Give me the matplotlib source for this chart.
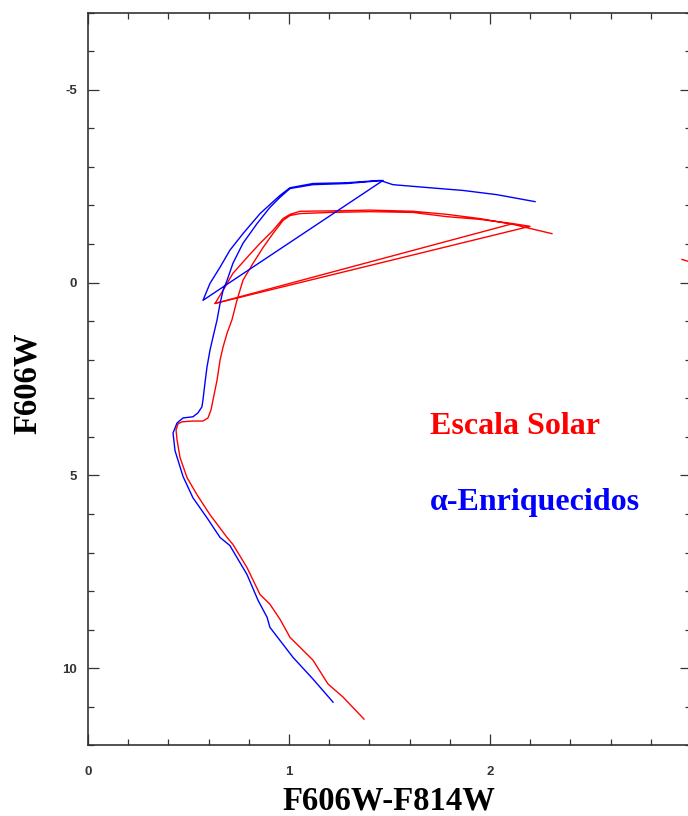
import matplotlib
matplotlib.use("Agg")
import matplotlib.pyplot as plt
from matplotlib.ticker import MultipleLocator

plt.rcParams["axes.unicode_minus"] = False

# ---- data (colour F606W-F814W, magnitude F606W) ----
solar_color = [1.373, 1.269, 1.194, 1.119, 1.005, 0.955, 0.905, 0.856, 0.791, 0.721,
               0.692, 0.607, 0.542, 0.493, 0.458, 0.443, 0.438, 0.448, 0.468, 0.522,
               0.572, 0.597, 0.612, 0.622, 0.642, 0.657, 0.672, 0.692, 0.716, 0.741,
               0.771, 0.821, 0.871, 0.920, 0.970, 1.005, 1.055, 1.204, 1.403, 1.617,
               1.786, 1.950, 2.114, 2.199,
               0.632,
               0.672, 0.721, 0.791, 0.856, 0.920, 0.970, 1.005, 1.055, 1.204, 1.403,
               1.617, 1.786, 1.950, 2.114, 2.308]
solar_mag = [11.32, 10.75, 10.41, 9.79, 9.20, 8.73, 8.34, 8.09, 7.39, 6.79,
             6.61, 6.02, 5.50, 5.06, 4.54, 4.08, 3.82, 3.66, 3.61, 3.59,
             3.59, 3.51, 3.30, 3.04, 2.53, 2.01, 1.67, 1.31, 0.97, 0.46,
             -0.06, -0.50, -0.91, -1.27, -1.61, -1.74, -1.79, -1.82, -1.84, -1.82,
             -1.71, -1.64, -1.53, -1.46,
             0.54,
             0.20, -0.24, -0.65, -1.02, -1.35, -1.66, -1.77, -1.85, -1.86, -1.88,
             -1.85, -1.77, -1.66, -1.51, -1.27]

solar_jump_color = [2.114, 0.632]
solar_jump_mag = [-1.53, 0.54]

solar_edge_color = [2.955, 3.020]
solar_edge_mag = [-0.60, -0.50]

alpha_color = [1.219, 1.119, 1.020, 0.905, 0.891, 0.846, 0.791, 0.706, 0.657, 0.592,
               0.522, 0.473, 0.433, 0.423, 0.443, 0.473, 0.522, 0.547, 0.567, 0.572,
               0.582, 0.592, 0.607, 0.622, 0.642, 0.657, 0.672, 0.692, 0.721, 0.771,
               0.841, 0.905, 0.955, 1.005, 1.119, 1.289, 1.468,
               0.572,
               0.607, 0.657, 0.706, 0.771, 0.856, 0.955, 1.005, 1.119, 1.289, 1.453,
               1.517, 1.701, 1.866, 2.035, 2.224]
alpha_mag = [10.88, 10.28, 9.72, 8.94, 8.68, 8.24, 7.57, 6.82, 6.61, 6.10,
             5.58, 5.03, 4.36, 3.90, 3.64, 3.51, 3.48, 3.38, 3.22, 3.04,
             2.60, 2.19, 1.75, 1.41, 0.97, 0.54, 0.20, -0.06, -0.50, -1.02,
             -1.53, -1.95, -2.21, -2.44, -2.54, -2.57, -2.65,
             0.46,
             0.02, -0.40, -0.84, -1.27, -1.79, -2.26, -2.46, -2.57, -2.59, -2.65,
             -2.54, -2.46, -2.39, -2.28, -2.10]

x_ticks = [0, 1, 2, 3]
y_ticks = [-5, 0, 5, 10]
label_solar = "Escala Solar"
label_alpha = "α-Enriquecidos"

# ---- figure ----
fig = plt.figure(figsize=(6.88, 8.16), dpi=100)
W, H = 688.0, 816.0
left_px, right_px, top_px, bottom_px = 88.0, 691.0, 12.7, 745.3
ax = fig.add_axes([left_px / W, 1 - bottom_px / H,
                   (right_px - left_px) / W, (bottom_px - top_px) / H])

red = "#ff0000"
blue = "#0000ff"
ax.plot(solar_color, solar_mag, color=red, lw=1.0)
ax.plot(solar_jump_color, solar_jump_mag, color=red, lw=1.0)
ax.plot(solar_edge_color, solar_edge_mag, color=red, lw=1.0)
ax.plot(alpha_color, alpha_mag, color=blue, lw=1.0)

ax.set_xlim(0, 3)
ax.set_ylim(12, -7)

ax.set_xticks(x_ticks)
ax.set_yticks(y_ticks)
ax.xaxis.set_minor_locator(MultipleLocator(0.2))
ax.yaxis.set_minor_locator(MultipleLocator(1))

spine_c = "#333333"
for s in ax.spines.values():
    s.set_color(spine_c)
    s.set_linewidth(1.2)

ax.tick_params(which="both", direction="in", top=True, right=True,
               color=spine_c, width=0.9)
ax.tick_params(which="major", length=8)
ax.tick_params(which="minor", length=4.3)
ax.tick_params(axis="x", which="major", pad=15)
ax.tick_params(axis="y", which="major", pad=8)
for lab in ax.get_xticklabels() + ax.get_yticklabels():
    lab.set_fontfamily("Liberation Sans")
    lab.set_fontweight("bold")
    lab.set_fontsize(9.5)
    lab.set_color("#333333")

serif = ["Liberation Serif", "DejaVu Serif"]
fig.text(389 / W, 1 - 801 / H, "F606W-F814W", ha="center", va="center",
         fontsize=23.5, fontweight="bold", family=serif, color="black")
fig.text(27 / W, 1 - 383 / H, "F606W", ha="center", va="center", rotation=90,
         fontsize=23.5, fontweight="bold", family=serif, color="black")

ax.text(1.70, 3.92, label_solar, color=red, fontsize=23, fontweight="bold",
        family=serif, ha="left", va="baseline")
ax.text(1.70, 5.90, label_alpha, color=blue, fontsize=23, fontweight="bold",
        family=serif, ha="left", va="baseline")

fig.savefig("out.png", dpi=100)
